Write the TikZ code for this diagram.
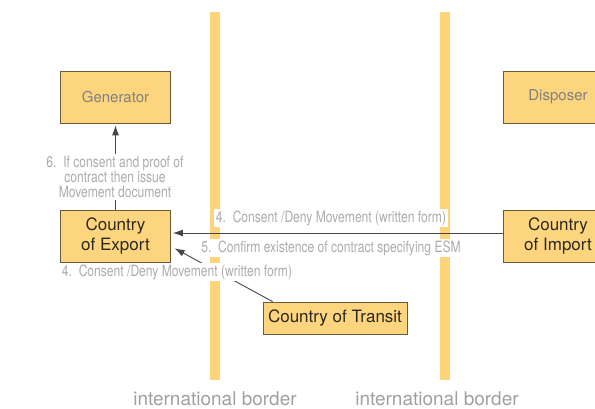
\documentclass[tikz,border=0pt]{standalone}
\usepackage{fontspec}
\usepackage{tikz}
\usetikzlibrary{arrows.meta}
\setmainfont{TeX Gyre Heros}
\newfontfamily\narrowfont[FakeStretch=0.78]{TeX Gyre Heros}
\definecolor{bordercol}{RGB}{254,212,122}
\definecolor{boxfill}{RGB}{253,213,126}
\definecolor{boxline}{RGB}{107,90,58}
\definecolor{boxtext}{RGB}{45,40,30}
\definecolor{labelgray}{RGB}{172,172,172}
\definecolor{bordergray}{RGB}{160,160,160}
\definecolor{arrowgray}{RGB}{70,70,70}

\begin{document}
\begin{tikzpicture}[x=1pt,y=-1pt,
    party/.style={draw=boxline,fill=boxfill,line width=0.8pt,minimum width=110pt,minimum height=52pt,
      align=center,inner sep=0pt,text=boxtext,font=\fontsize{17}{20}\selectfont},
    actor/.style={party,text=gray,font=\fontsize{15}{18}\selectfont},
    msg/.style={fill=white,text=labelgray,align=center,inner sep=2pt,font=\narrowfont\fontsize{15.5}{15}\selectfont},
    flow/.style={draw=arrowgray,line width=0.9pt,-{Latex[length=10pt,width=7pt]},shorten >=2pt}]
                \clip (0,0) rectangle (595,409);
                
                % Borders
                \fill[bordercol] (210,12) rectangle (220,380);
                \fill[bordercol] (440,12) rectangle (450,380);
                \node[text=bordergray,font=\fontsize{19}{22}\selectfont] (borderA) at (215,399) {international border};
                \node[text=bordergray,font=\fontsize{19}{22}\selectfont] (borderB) at (437,399) {international border};
                
                % Parties
                \node[actor] (gen) at (115.5,97) {Generator};
                \node[actor] (disp) at (558,97) {Disposer};
                \node[party] (export) at (115.5,236) {Country\\of Export};
                \node[party] (import) at (558,236) {Country\\of Import};
                \node[party,minimum width=144pt,minimum height=32pt] (transit) at (335,318) {Country of Transit};
                
                % Movements
                \draw[flow] (export.north) -- (gen.south);
                \draw[flow] ([yshift=3pt]import.west) -- ([yshift=3pt]export.east);
                \draw[flow] ([xshift=10pt]transit.north west) -- ([xshift=2pt,yshift=15pt]export.south east);
                
                % Messages
                \node[msg] (msgsix) at (115,177) {6.\ \ If consent and proof of\\contract then issue\\Movement document};
                \node[msg] (msgfour) at (331,218) {4.\ \ Consent /Deny Movement (written form)};
                \node[msg] (msgfive) at (331,248) {5.\ \ Confirm existence of contract specifying ESM};
                \node[msg] (msgtransit) at (177,272) {4.\ \ Consent /Deny Movement (written form)};
            \end{tikzpicture}
\end{document}
